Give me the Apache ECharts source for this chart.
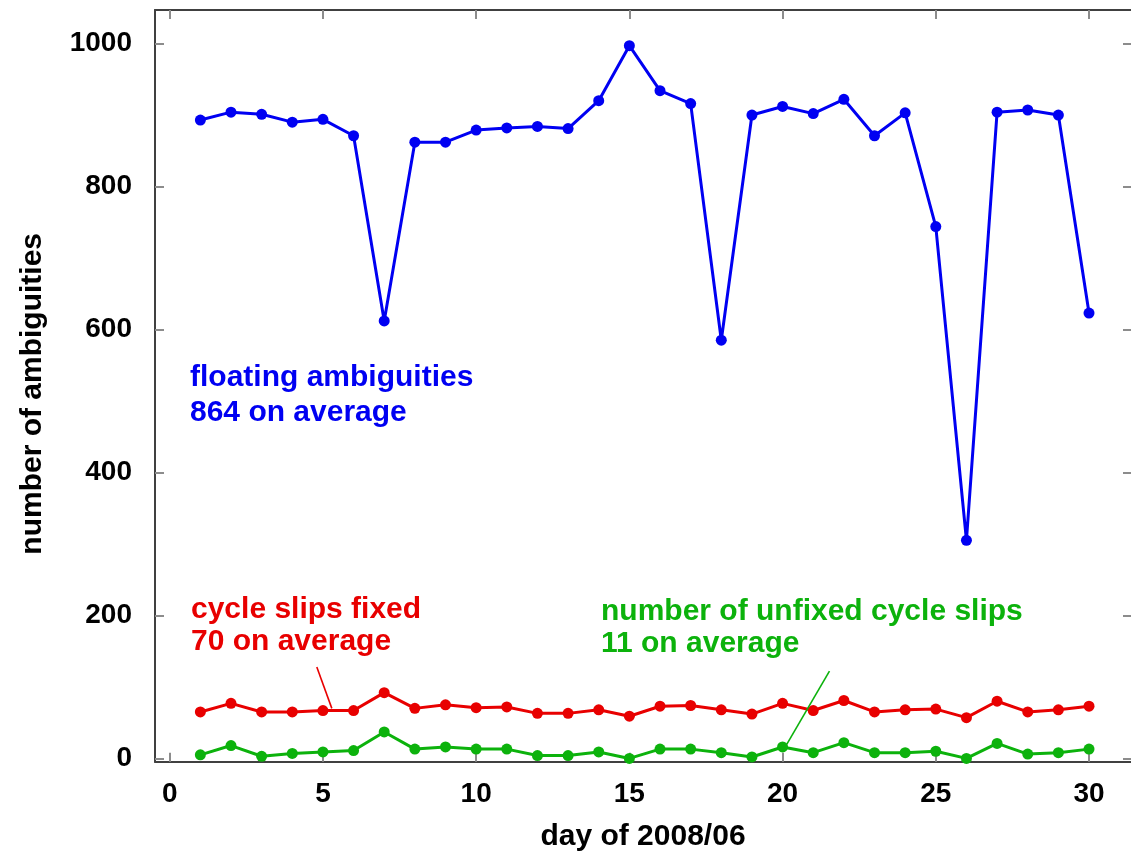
<!DOCTYPE html>
<html>
<head>
<meta charset="utf-8">
<title>Ambiguities per day, 2008/06</title>
<script src="https://cdn.jsdelivr.net/npm/echarts@6/dist/echarts.min.js"></script>
<style>
  html, body { margin: 0; padding: 0; background: #ffffff; }
  #chart { width: 1131px; height: 854px; }
</style>
</head>
<body>
<div id="chart"></div>
<script>
// Daily counts for June 2008
const days = [1,2,3,4,5,6,7,8,9,10,11,12,13,14,15,16,17,18,19,20,21,22,23,24,25,26,27,28,29,30];
const floatingAmbiguities = [893,904,901,890,894,871,612,862,862,879,882,884,881,920,997,934,916,585,900,912,902,922,871,903,744,305,904,907,900,623];
const cycleSlipsFixed = [65,77,65,65,67,67,92,70,75,71,72,63,63,68,59,73,74,68,62,77,67,81,65,68,69,57,80,65,68,73];
const unfixedCycleSlips = [5,18,3,7,9,11,37,13,16,13,13,4,4,9,0,13,13,8,2,16,8,22,8,8,10,0,21,6,8,13];

const xTicks = [0,5,10,15,20,25,30];
const yTicks = [0,200,400,600,800,1000];

// Pointer lines from the notes to their curves: [[x0, y0], [x1, y1]] in data units
const fixedPointer = [[4.8, 128], [5.29, 70]];
const unfixedPointer = [[21.53, 122], [20.14, 20]];

const BLUE = '#0000f2';
const RED = '#e80000';
const GREEN = '#0cb20c';
const FONT = '"Liberation Sans", Arial, Helvetica, sans-serif';
const FRAME = '#404040';
const TICK = '#8c8c8c';

const pairs = (vals) => days.map((d, i) => [d, vals[i]]);
const plain = (v) => String(v);

function lineSeries(name, vals, color, pointer) {
  const s = {
    name: name,
    type: 'line',
    data: pairs(vals),
    symbol: 'circle',
    symbolSize: 11,
    lineStyle: { color: color, width: 3 },
    itemStyle: { color: color },
    z: 3
  };
  if (pointer) {
    s.markLine = {
      silent: true,
      symbol: ['none', 'none'],
      label: { show: false },
      lineStyle: { color: color, width: 1.6, type: 'solid' },
      data: [[{ coord: pointer[0] }, { coord: pointer[1] }]]
    };
  }
  return s;
}

// The plot box runs past the right edge of the canvas, so the x range ends at the canvas edge
const xRange = { min: -0.48, max: 31.37 };
const yRange = { min: -4.6, max: 1046.9 };

const chart = echarts.init(document.getElementById('chart'), null, { renderer: 'canvas' });

chart.setOption({
  animation: false,
  backgroundColor: '#ffffff',
  grid: { left: 155, top: 10, right: 0, bottom: 92.3, containLabel: false, outerBoundsMode: 'none' },
  xAxis: [
    {
      type: 'value', position: 'bottom', min: xRange.min, max: xRange.max,
      name: 'day of 2008/06', nameLocation: 'middle', nameGap: 60,
      nameTextStyle: { fontFamily: FONT, fontWeight: 'bold', fontSize: 30, color: '#000' },
      axisLine: { show: true, onZero: false, lineStyle: { color: FRAME, width: 2 } },
      axisTick: { show: true, inside: true, length: 9, customValues: xTicks, lineStyle: { color: TICK, width: 2 } },
      axisLabel: { show: true, customValues: xTicks, formatter: plain, margin: 19, fontFamily: FONT, fontWeight: 'bold', fontSize: 28, color: '#000' },
      splitLine: { show: false }
    },
    {
      type: 'value', position: 'top', min: xRange.min, max: xRange.max,
      axisLine: { show: true, onZero: false, lineStyle: { color: FRAME, width: 2 } },
      axisTick: { show: true, inside: true, length: 9, customValues: xTicks, lineStyle: { color: TICK, width: 2 } },
      axisLabel: { show: false },
      splitLine: { show: false }
    }
  ],
  yAxis: [
    {
      type: 'value', position: 'left', min: yRange.min, max: yRange.max,
      name: 'number of ambiguities', nameLocation: 'middle', nameGap: 107, nameRotate: 90,
      nameTextStyle: { fontFamily: FONT, fontWeight: 'bold', fontSize: 30, color: '#000', padding: [0, 16, 0, 0] },
      axisLine: { show: true, onZero: false, lineStyle: { color: FRAME, width: 2 } },
      axisTick: { show: true, inside: true, length: 9, customValues: yTicks, lineStyle: { color: TICK, width: 2 } },
      axisLabel: { show: true, customValues: yTicks, formatter: plain, margin: 23, fontFamily: FONT, fontWeight: 'bold', fontSize: 28, color: '#000' },
      splitLine: { show: false }
    },
    {
      type: 'value', position: 'right', min: yRange.min, max: yRange.max,
      axisLine: { show: false, onZero: false },
      axisTick: { show: true, inside: true, length: 8, customValues: yTicks, lineStyle: { color: TICK, width: 2 } },
      axisLabel: { show: false },
      splitLine: { show: false }
    }
  ],
  series: [
    lineSeries('floating ambiguities', floatingAmbiguities, BLUE, null),
    lineSeries('cycle slips fixed', cycleSlipsFixed, RED, fixedPointer),
    lineSeries('number of unfixed cycle slips', unfixedCycleSlips, GREEN, unfixedPointer)
  ],
  graphic: [
    { type: 'text', left: 190, top: 360, style: { text: 'floating ambiguities\n864 on average', fill: BLUE, font: 'bold 30px ' + FONT, lineHeight: 35 } },
    { type: 'text', left: 191, top: 594, style: { text: 'cycle slips fixed\n70 on average', fill: RED, font: 'bold 30px ' + FONT, lineHeight: 32 } },
    { type: 'text', left: 601, top: 596, style: { text: 'number of unfixed cycle slips\n11 on average', fill: GREEN, font: 'bold 30px ' + FONT, lineHeight: 32 } }
  ]
});
</script>
</body>
</html>
